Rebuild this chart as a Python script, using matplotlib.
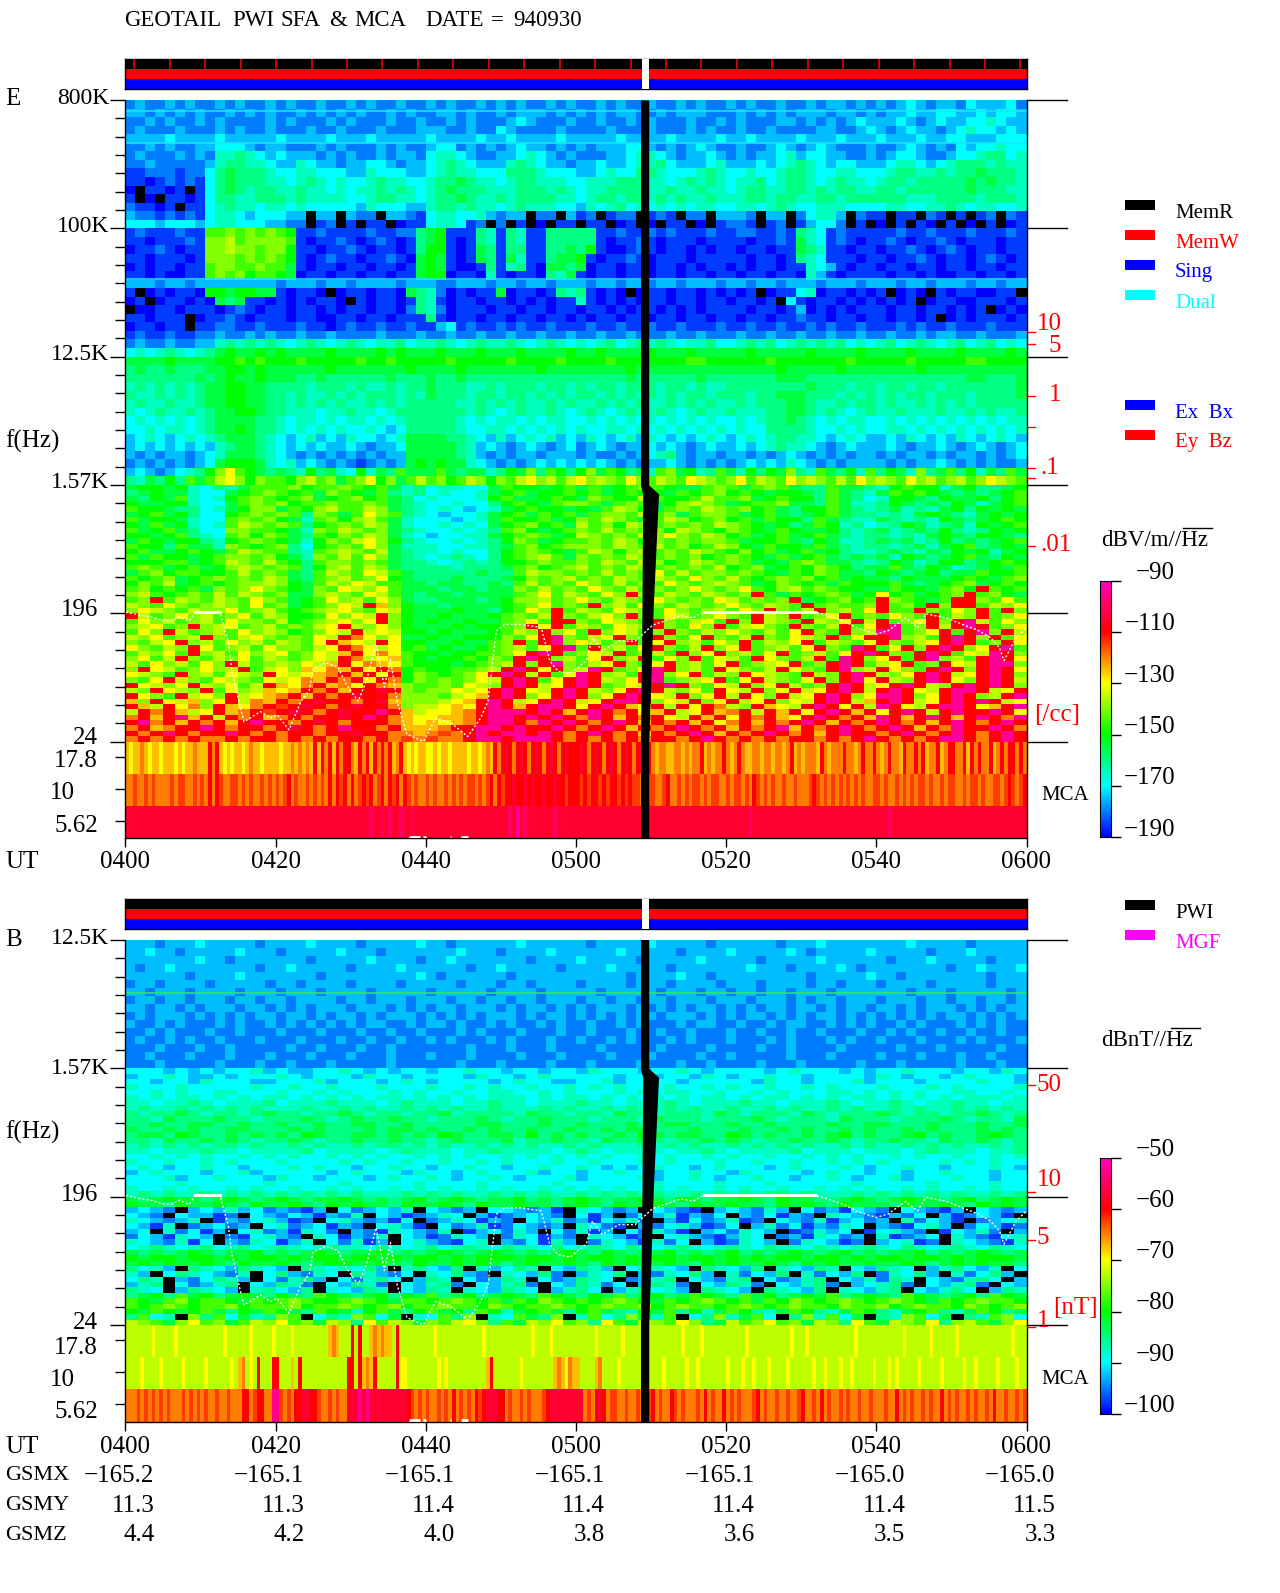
import numpy as np
import matplotlib
matplotlib.use("Agg")
import matplotlib.pyplot as plt
from matplotlib.colors import LinearSegmentedColormap
from matplotlib.patches import Rectangle

W, H = 1280, 1593
# Character codes: a..u = 21 equal colour-scale steps (blue -> magenta), '.' = below scale
E_HIGH = [
"cdccdcdccdcdccd cdccdccdcdccdcc dcdccdcdcdccdcd ccdcdccdccdcdcc dcdccdccdcddcdc dcdedcddcedddec",
"ddcdcdcdccdcdcd ccdcdcdcdccdcdc cddcdccdcdddcdc dcdcddccdcdddcc cdcdcdcdddcddcd cddeddeeddedeed",
"ccdcdccdcdccccd cdcccdcdcccdccd ccdcdcccdedcccd ccdccdcdcccdccd cdcccddcdcdcded ddedcdeddeefedd",
"cdcccdcccdcdccd cccdccdcccdcccd ddccdccedccccdc cccdcccdcccdcdc cdccdccccddccde dcdeddcdefeeded",
"ddddeddddeddddd eddddedddeddddd eddddeddedddded ddddeddddedddde ddeddddedddeddd edddeddeedddeee",
"ccdcdccddeeedcd dcccdcdcccdcdcc deecdcdcdeddcdc dcdddeedcdcdedc cdccdedcdedcccd ccdedcdcedeefee",
"cdcccdcdcffgfed edddcdcdccdcddc effedccddefedcd cccddeffedcdded cdcddefdeeddccd cdeedccdeefggef",
"ccdcccccdfggffe ddfeddcddeedcdd efgfedddfgfeddc ddeddeffgedddef dddedefgfedeedd deffedefgggfgff",
"bbcccbcceghgggf eeffeeeddfeeedd efgffeeegggfeee ddefeeggfeeefgf eefeefggfeeffee efggffgfgghgggf",
"bbabcbcbeghgggf fefgfefeefgffee fgghgffefggfffe efffgggffefgfgf effgefggfefgffe fggfggggghghggf",
"a.bbab.beghgfgg ffgffefeffgfgfe fghgggfffgggfgf effggggffgffgff efggffggfgfggff ggfgggggghgggff",
"b.a.bbabeggffgg gfgffffeefggffe fgghgffgfggggff efggfggfgfgffgf ffggfggffggfggg gggfffggggfgggf",
"cbbab.bbefgffef fefeeeeedfeeedd fggfgffefgfffee dfefgefefefeffe effefgfeefffeee effeeffgfeffeef",
"dccbcbcbeffedee edd.dd.dcc.ddcb effeefdcdd.cc.d bc.bcc.bcb.cc.d ddc.dd.ceffd.cb b.bb.cb.b.bc.cb",
"eeedeeedeffeeed dcc.bc.b.bb.abb effebc.c.b.a.bb .bb.ab.a.bb.a.b ccb.bc.bdeec.b. a.b.ba.b.a.b.ab",
"bcbbbcbbjjkjkjk jibbcbbbbcbbccg hibbbgfbgfbbggg ggbbcbbcbcbbbcb bccbbcbgfebcbbb bbcbbcbbbcbbbcb",
"bbabbbcbkkljkkk kjbabbcbabcbabg hibabgfbgfbbggg ggbabbcbabbbabb bbabbcbhfebcbab bcbabbcbabbbabb",
"abbcbabbkklkkjk kibbabbcbabbabg iibabhgbggbbggh gibaabcbabbabab babbabbhgfbbabb abbcbabcbabbabb",
"bbabbbabkkkjkjk jibabcbbabbcbah ihbabhgbhfbbghh ibabbcbabbbabbb bbabbabgfebbbab babbcbabbabcbab",
"ababbabbjkkjjkj jhbabbabbabbabh ihbaabgbfgbahhg habbabbabbababb ababbabbfedbabb abbabbabbabbabb",
"bbabaabbjkjkijj ihabbabbabbabbh iiabbafbabbagfh babbabbabbabbab babbabbafdbabbb babbabaabbabbab",
"dddcddcdddddddd cdddcddcddddcdd dccdddcddcddcdd dcddcddcddcdddc ddcddcdddcdddcd ddcddcdddcddcdd",
"b.ababbaiihiihh babba.abbabbahg fcababbhabbabgf gbaba.abbabbaba bab.abbefabbaba b.aba.babbaabb.",
"ab.abbabahghbba bababba.babbabg fbabbabbabababb fbabababbabbabb abbab.ebabbabab abab.abbaabbbab",
".aabbabbbabcbab babbababbabbacg fcabbbabbabbabb abbababbabababb bbabbabdabababb babbabbabab.aba",
"bbabbb.abbcbabb babbaabbabbabbb gbabbabbabbabba babbabbabbabbab babbabbcbbabbab babbab.ababbbab",
"abbabb.bbccbbcb bbcbbabcbbcbbcb bdebcbbcbcbbcbb bcbbcbbcbbcbbbc bbcbbcbbcbcbbcb bbcbcbbcbbbcbbb",
"bcbbcbbccdccdcd ccdccdccccdcccd ccdccdccdccdccd ccdccdcccdccdcc cdccdccdccdccdc cdccdcddccdcccd",
"cdccdccddfgfgfg fefgfefgfeffgef fgfefgffgfefgfe fefgefgfgfeffge efgfgefgfgfgefe fgefgfefgefgefe",
"efefgfefghihhih ihhhhihhhhihihh hihhhihhhihhhhi hhihhhhihhhihhh hhihhhhhihhhhih hhhihhhhihhhhih",
"hhhhihhhhiijiji iijiiiiijiijiii iijiiiiijiiiiji iiijiiiiiiijjii iiiijiiiiiiijii iiijiiiiijjiiii",
"ghgghggghhiihih hhhhhihhhhhhhih hhhihhhhhhhihhh hhhhhihhhhhhhhh hhhhhihhhhhihhh hhhhihhhhhhhhhh",
"ggggggghghihhih hhgghgggggghggg hgghggggggggggg ggggghgggggghgg ggggghhhggggggg ggggggggghhgggh",
"fgfgfgfghhiihhg gggfgggfgffgfgg hgggffgfgggfggf gfggfgggfggfgff gggggggghgggfgg fggfggfgggggggh",
"gffgfgfghhiihhg gfgffgfgfgggfgf hgggfggfggfgfgf ggfgfgfgfgfggfg ggfgghhhgggfgfg fgfggfgggfggggh",
"fgffgffghhiihhg gfgfgfgffgfgfgg gggffgfgfgffgfg ffgfgfgffgfgfgf fgfggghhgffgfgg fgffgfgfgfggggg",
"fefgffgfghhiihg gfffeffgffefggg ggggfgfefgffgfe fgfefgffgfefgff gfffgghhgfgfefg ffgfffgffgfgffg",
"efefefefghhhhgg feffefeffefefgg gggfefeffefeffe efefefefefefefe efefgghgfefeffe efefefefefefeff",
"eefeffefghhihgg fefefefeefedegg gggfeeffefefefe feeffefefefefef efeeggggfeefefe effefefefefefef",
"defedefefghhhgf edefdedfeedefhh hhggfedfdefefde dfedefdfededefe defefggffedefed dedfededfedefed",
"dededededfghhgf edededdedcddehh hhhgfdedcdedcde cdedcddededcded dedefgffedcdedd dedcddedcdedcde",
"dcdcddcdefhhhgf edcdcdcdcdcddhh hhhgfdcdcddcddd cdccdcdefgdcddc ddcdcdedcdcdcdd cdcddcdcddcdcde",
"cdcdcdcdehiiihf efdedcdcbcdcdhi hihhfedcdcdeded ededcdcddedcdcd cdededfedcdcddd dcdcddedcdcdccd",
"dedcdefgikmjihg hgfighfeifhgjhh hjhghhfgihkgjig ikhjighfjkhifgj hfigihkgfjhgifj gihfkghjgifhgjh",
"gfhgigjhjlmkikj jikljkhjkmikhjl jkijlkikjlmkljl mklkjmkjlkjmlkj kmjlkjmklkjljmk lkjmkljkljkmlkj",
]
E_LOW = [
"hiihifegfhjj jkijjkjijhfg effeehjiihij hjhijkjihhjk jhjkjhggjhhg fijiifhigghi",
"ghihhfeehijk jijhkjihjgfg efeefhijhiij ijhijiihjijk ijihiihgjhgf hjijihghghij",
"hgihjfefijkj ijkhijkijhge feeefijhhiji hkjiiljiijlj jkhijiigjhge fiihgihhigij",
"ihhiifeehjkj kijjkjjkjhgf eefeegijihjk kjhjkjhiklkj hijjkhhgjhff gihghgihfhij",
"jiihggefhikk hjikljjlkhgf efedefhijiih ihjlkihjkjlk jkijhgiijhgf ghfgfhigihih",
"hijhigeeijkj kjgkjhjmkjgf edeefhijhjij hjkkjljkhjkk jhijhghijhgg fgfhihgfhihi",
"jhiihfeejkjk ihfjkikljhfe eedefhjiijhi kjlkjhjlkijk ijhjiigjhgff hgfgfihghiji",
"ihjhifefjlkj kjgijkjlkhfe efefehijkijh ljkilkjkjkjl kjihighjifge fgihfghfihij",
"jhijhgeekkjj ihfkjlkjkhgf eefefgjkihij kjljkjkilkji kjihjihhigfg hfghgigfgihi",
"iihijgfejkik jhgjikjlkhfe deeffhijkjhi lkjkjlkmkjlk ijhijhijhgfg gfgfhihgiihg",
"hjihiigfijkj ihfikjlmkigf eefefgikjhij jkjlkikjkjkk jhiijhgihffg hghfgighghij",
"jiigjhhfkjij kgeijkjmkhff feeffghjkijk kkjlkjljkijl kihjiihjhgfg gfghfhijghih",
"ijhhijihjlkj jgfjklkjlhgf fefeegijkjih jlkikljkjlkj ikijhijhigff ghgfhgihifhi",
"jhjiihijkkjk ihfkjljmkhgf efgfegijkljh kjkjlkjkjkij kjihjhijhghg hfihghijhgih",
"iiijjhijlkjl jigjkkjkjhgg fefgfgiijkjj kjlkjlkijlkj kjhihjkjhhgf gihfgiighiji",
"jkjhijhiklkj kjgikljlkhgg ggfggghjkijk ljkjlkjkjkjl ijkhijikjigh hjhgihfghihj",
"hjkijjiijljk jhgjlkjmljhg gggghggjlkkj kjljkjmjljkk jkjihjikjhhg ihghighhjiij",
"jijkhijkjkjl khgjkljkmihg gghggghikjkl jkjlkjlkjmkj ljijkjkijhih hgihhhijihjk",
"ikjlhijijkkl kihjlkmljjhh ghhgghgjljkj mkjljkjmkjkl kjhikjijhjii ijhghijkhiji",
"jkijijhkjkmk jihkjmlkmjhh hghhghhkjljk jmkjljkjkmkj kmjikljkjiih hjiihjkiqjij",
"kljijkjljlkj khhklkjmljhg hhghhhhjkmjl kjmkqkjlkjlk jkqjhjijkjhi mijhijkqjkih",
"jkqjlkjlkjmk jhijmkljmkhg ghhhghikkljk mkjlkjmkjkjm ljkjkqhijkij qkjihjqqkjmj",
"lkjmkjklkjmj khijkmlqnkih hghhhhijkmjk jqkljmkjlkjk mkjlkjqjkjjk qjkiqkqqjlkm",
"kmlkjlkkmjkl jijklmkjmlih hhihhgijmkqj lkjmlkjmkjkl jmkqkjlqkljm qjjqkjmkqjqk",
"qljkmkljkmjl kiijmkmlqkih hihhhijkjlqk jlmkqkjmljkm kjqlkqjkmqjk jmkjqjlkqjkm",
"jmkljkljmkkj lijklmkmqkih ihhihhjkmjqq kjmlkjqkjlmj qkqlkjqlkmql qjkmqkqtljmk",
"klmjkqklmjkl jkjlmqlkmkih hhihiijkqmqj lkjmlkqkjmkq jlmkjqkjlqjm qtjkqlqtqjkm",
"jmkqljkljmkl kijkmlqlmlii hihhhijlkqkm jqkmljkqkjlk mkjljmqkjqkl ttjkmqjqtkql",
"lkmjklqkjlmk jkjmlqomkmhh ihhiiikjmqtk jlmqkjqkjmqk jlqkjmlkqjmq qtkljqtqkqjm",
"kjlmqkljmklj lkjmqnmlqmii hhihhjkqjqtk mljkqjmqkljm kqjlkmqjlkjm qkjlmqtqjkqm",
"mkjlkqmjkljm kkjlmqomlmij hihhijkljmqt jqkljmqkjlqk mqjkljmqkjtq jmqkqtqkmqtj",
"jlkmjqkljmkl mjkmlnqmomji ihiijjkmqtqj kmlqjkljqkmq kljmqjkljmqt qkjqtqjmltqk",
"kmjlqkjlkmjl kjkmlqolmnji hiijikjqtqkl jmqklqjmkqjm ljqmkjlqjtqk mqjqtkljqtqm",
"ljmkljmkqljk lkmlnqmonmji iihijklqkqtk jlmqkjmqkljm qjklmqjkqtqj lmqjkqmlqttk",
"kqmljkmklqjl mknmonqmqoij iijjklqtqmqk ltqjkmtqkljq mkjlqmkjqtkl qmkjqtqkqtqm",
"mlkjqkljmlkq mlmnoqnqmqik jijkmqtqlqjm tqkljqtkmqjl kqmlkjqlkqtq lkmqtqlmqtqk",
"kjmqlkjmlkjm lmonqoqmqoik jkjkmlqtqjmq tqlkmqtjklmq jmqlkjmqkqtm qlkqtqmkqtql",
"qmlkmqlkmjlq nmoqnomqonkj jkjmlkqtqlmq tqjkmlqtqkjm lqkmqljkqtql mqtqlkqtqtqk",
"lkqmlkqjmkln mnqoqnqqrqkj kkmlmqtqmlqt qlkmqtqlkmjq mlqkmqlmqtql qtqmlqttqlmq",
"qmkjqlmkqlmn oqnqoqrqqokk kjlmnqtqkmqt qkmqtqmlqkmq lqmkqlmqtqkm ttqkmqtqklqt",
"nkqmlnkmqlon qoqrqqoqrnkk klmnqtqlmqtq lmqttqkmlqkm qlmqkmlqtqln qtqlmqtqtqlm",
"qnlqmokqnmoq pqrqoqrqqokl lmnmqtqnqttq mqtqnmqlqmqo lkqnmlqtqmql tqmlqttqmnqt",
"lqoqnlmqnoqp qrqoqrqqtqnl mmnoqtttqtqn qtqoqmnqlmqn oqlqnqmqtqnq mqtqlqtqqtqm",
"oqnqtnqlqoqn oqoqqrqtqonm mnnoqttqtqtq otqnqoqmlqnq mqoqnmqtqoqn tqnqtqnqtqot",
"qtoqnqoqnqtq qoqrqoqqqonm nmnoqttqotqt qoqtqnqoqnqm oqnqoqtqnqoq tqoqnqtqoqtq",
"oqnoqqtqoqqo qrqoqtqqoqnn noqqttqtqqtq oqtqnqoqtqoq nqoqtnqoqtqo qtqnqotqqtqo",
"qoqtqoqqtqoq oqqoqqrqqoon opoqtqttqtqo qtqoqnqoqtqn qoqtqoqnqtqq oqtqoqtqoqtq",
"oqoqoqooqoqq oqoqoqqoqopo pooqttqtttqo qoqoqoqqoqtq oqoqoqqoqoqt qoqoqttqoqtq",
]
# 240 characters per MCA strip: 10 characters = 5 minutes
E_MCA_18 = "nmnnonmnnm nnnmnmnnon nnqoqnmnmn nmnonnmnnn nmnnononon qnqoqnqoqq onqoqnqoqo qnoqnmnmnn mmnmnnmnnn nmnnmnonqo qrqoqrqoqr qoqrqoqrqq qrqoqrqoqr qoqrqoqrqq onoonnoono nooqnonooq onoqonnoon oonoonoqno nooonqonoo oqoonoqooq onoqoonqoo qoqnooqnoq qooqnqoqoo qnoqoqqoqo"
E_MCA_10 = "oopoopopoo oopoppoopo poqoqpoopp opopoopopo popqopoopo popoqoqpqo qopqpqopqo qpqoqpopoo popoopopop oppopopqoq pqqrqqrqrq qrqqrqqpqq qpqpqqpqpq qpqpqppoop poopqoopop oppopoppoo poppopoqpo popoopoopo oopqpopopo popopopoop popoopopop oppopoopop poopoppopo oppopqpopq"
E_MCA_5 = "rrrrrrrrrr rrrrrrrrrr rrrrrrrrrr rrrrrrrrrr rrrrrrrrrr rrrrrrrrrr rrrrrsrrsr srrsrrsrrr rrrrrrrrrr rrrrrrrrrr rrsrtrsrrr rrrrsrrrrr rrrrrrrrrr rrrrrrrrrr rrrrrrrrrr rrrrrrrrrr rrrrrrsrrr rrrrrrrrrr rrrrrrrrrr rrrrrrrrrr rrrsrrrrrr rrrrrrrrrr rrrrrrrrrr rrrrrrrrrr"
B_HIGH = [
"dddcdddedddddcd dddeddddcddddde ddcddddddeddddd dcdddddedddddcd dddddcdddeddddd dddedddddcddddd",
"ddeddcdddddeddd cdddddedddcdddd dddedddcddddedd ddddedddddcdddd edddddedcddddde dddddcdddeddddd",
"dddddddeddcdddd dddcdddddeddddc ddedddddddcdddd edddddcdddddedd dddcdddddeddddd dcdddedddddcddd",
"dcddeddddddddcd dedddddcddddedd ddddcddedddddcd dddedddddcddddd ddedddcddddedcd dddddddcddeddde",
"ddddddcddddeddd ddddcddddddddde dcddddddcdddddd dddddcddddeddcd ddddddddcddddde ddcddddddddcddd",
"cddcddddcdddddc ddcddddcddddcdd dddcdddcddcdddd cddddcdddcddddc dddcddddcddcddd cddddcdddddcddd",
"ddcdddcddddcddd cdddcddddcddddd cdddddcddddcddd ddcdddddcdddcdd cddcddcdddcdddd dddcdddcdddddcd",
"cddcddcdddcddcd dcddddcddcdddcd ddcddcddcddcddd cddcddcddcdddcd ddcdddcdcddcddd cdddcddcddcddcd",
"ddcddcdcdddcddc dcdcdddcdddcdcd cddcdddcdcddcdc dcdddcdcdcdcddc dcdcddcddcdcddc ddcdcdddcdcdcdd",
"cdcdddcdcdcdcdd cddcdcddcdcdddc dcdcdcdddcdcddc dcdcdcddcdddcdc dcddcdcdcddcdcd cdcdcdcddcdcdcd",
"dccdcdcccdcdccd cdcdcdcdcddccdc ddcdccdcdccdcdc cdccdcdcccdcddc cdccdcddccdcdcd ccdcdcccdcdcdcc",
"ccdcdcccdccdccc dcccdcccdccdccd cccdcdcccdcccdc cdcccdccdccdccc dccdccdccdcccdc cdcdccdccdccdcc",
"cdccdcdccdcccdc ccdcccdccdccdcc dcdcccdcdcccdcc dccdcdcccdcdccc dcccdcdcccdcdcc dcccdcccdcdcccd",
"cccdcccdccdcccc cdccdcccdccdccc ccccdcccdcccdcc ccdcccccdccccdc cccdccdccccdccc ccdcccdcccccdcc",
"ccdcccdcccdcccd cccdcccdcccdccc dcccdccccdcccdc cccdcccdccccdcc dcccccdcccdcccc dcccdcccdccdccc",
"cccdcccccdcccdc cdcccdcccccdccc cccdcccdccccdcc cdccccdcccdccdc cccdcccdcccccdc ccdcccccdcccdcc",
]
B_LOW = [
"eeedededeefd eddeefededee deefeedeedee dfeeedeefede eeedefeeeded eefeeedeedfe",
"deefeddedeee fedeeedfeede eeedfeedefee eeedeedeedfe deefeedeeeed fedeedefeeed",
"eedeedfeeedd eeefdeeedefe deeeedefeedd eefdeeeedeee eedfeedeeefd eeedeeeefeed",
"feeefeeeeefe efeefeeefeee feefefeefeef efefeeefeefe feefeefefeee feeefefeeeef",
"eefefeeffeee feefefeeefef eefeeffeefef eeefefeffeef eefefeeeffef efefeeffeefe",
"fefeffefefef fefefefeffef efefefffefef fefefefefeff efeffefefeff efefefefffef",
"ffeffgfefffg efffgfffefgf ffeffgffefff gffefffgfeff fgffefffgfef fgfeffgffeff",
"fgffgfgfgfgf ffgffgfgffgf gfgffgfffgfg ffgfgffgfgff gffgfgffgfgf fgfgffgfgfgf",
"gfgghgfggfgh ggfgghgfggfg ghfggggfhggf ggfhggfgggfh gfgggfhgfggg hgfggfgghgfg",
"ggfhggghggfg gghgfghgghgg fggghgfgghgg gfgggfhgggfg gghgfgggfhgg gfggghgfggfh",
"gghgghhgghgg hgghgghhgghg gggghhggghgg hggghgghhggg hgghgggghggh hggghggghggh",
"hgghghgghhgg ghghggghghhg hgghghgghggh gghghhggghgg ghgghghgghgh gghghggghghg",
"ghhgihgghghg hgihgghhghgh gihgghhgighg hgghgihghhgg ihghgghghigh gghighgghihg",
"ggfhgghghgfg ghgfgghgghgg fghggghfgghg gfhgghgfgghg hgfgghgghgfg ghggfhgghgfg",
"fgfgfgfggfgf fgfgffgfggfg fgffgfgfgffg fgfffgfgfgff gfgfgfgffgfg ffgfgfgffgfg",
"ffefffgffeff ffgeffffefgf ffeffgffffef gfeffffeffgf effffgefffef ffefgfffeffg",
"eefefefeefef efeefefefeef efefeefefefe fefeefefeefe feefeefefefe efefeefeefef",
"feefeefefeee feeeefefeefe efeefefeeefe efeeefefeeef eefeefeefefe feeeefefefee",
"efedeefeedee efefeedeefee deefeedeefee fededefeedef eeedefeeefed eefeedeeefed",
"defeeedeefde eeeedefeeedf eedefeeefdee deefeedeefee dfeeeedefeed eedeefeeedee",
"eeefdeefeeed feedeeedefee fedeefedeeef deeeefdeefed eefeedeefede efdeeefeedee",
"eeeefeeeeeef eeeeefeeeeef eeeefeeeeefe eeeeeefeeeef eeefeeeeeefe eeeefeeeefee",
"feefefeefefe efeefefeefef efeefefeefef efefeefefeef efeefeefefef eefefeefefee",
"fgfgffgfgfgf gfgfgfgfffgf gfgffgfgfgff gfgfgfgffgfg fgfggfgfffgf gfgfgfgffgfg",
"hghihhghihgh ihghhihghghi ghihghhighgh ihghhihgihgh hihgihhgghih ghihhghighih",
"ihhgihhihgih hihgihihhgih hihgihhihhgh ihgihhihgihh ihhgihihgihh hgihhihgihih",
"dedc.dedfdec dcbd.ecdedf. edcd.eedcdb. fedcd.edcb.d edcfd.ecdbed c.edcbd.edcd",
"edc.eddbc.ed cedbdcf.edbc dfe.dbcdedc. ebd.cedfbdce .dcebdc.fedc bdce.dbcedb.",
"fedcdf.bdcef dbc.efdcdbe. cdfebdc.edfc dbedfc.dbecd fbc.edcfbdec d.fcedb.cdef",
"edbf.cdecd.e fcdebdc.efdb .ecdfbcedcd. fecb.dcefdbc e.dfcebdcfe. dcbefd.cedbc",
"de.fcebd.efc dbfec.dcbfed cf.bdecfd.ec fbd.ecfdb.de cfed.bcfde.b efdc.bedfc.d",
"cedbfed.cbef dc.febdcf.ed bcfed.cfebdc .fedbc.efdcb dfe.cdbfecd. fbcde.fdcbef",
"fedcfbe.dcfe bdf.ecfbd.ef dcbef.dcebfd .cfedbfce.db cfed.cfedbc. defbc.fedcbf",
"efgfefgefgef gfefgffegfef gefgfegffege fgfegfefgfef gfegffegfefg fegfefgfegfe",
"hghghihghhig hghihghhighg hihghihghghi hgihghhighgh ighghihghigh ghhighghihgh",
"ihiihiihihii hihiihiihihi ihihiiihiihi hiihihiihiih ihihiihiihih iihiihihiiih",
"hihihhihgihh ihghiihhihgi hhihihghihhi hgihihhihgih ihhihgihihhi hhihghihihhg",
"gefd.gfedgfe d.gfefegd.fg edg.fdegf.ed gfd.egfed.gf edg.fedgf.ed gfe.dfgedf.e",
"fd.egfedcf.e gdcfe.gfdce. fegdc.fedgc. dfeg.dcfegd. fcedg.fcedg. cfegd.fcegd.",
"egf.dcegfd.e cfgd.ecfge.d gf.ecdgf.ecd gfe.cdfg.edc fg.ecdfg.edf cgf.edcfge.d",
"dfg.ecdfg.ed gfc.edgfc.ed fgc.edfgc.ed gfce.dgfc.ed gfc.edfgc.de fgc.edfgc.ed",
"gfe.dgfed.fg edg.fedgf.ed gf.fedgfe.df ge.dfgefd.gf ed.gfedg.fed fg.edfge.dgf",
"ghigjhighihg ihgjihghigih jghighihgjih gihjghighjih gjhighihjghi hgjihghigjih",
"jihjkijjihji jkjiijkjihjj ijkjijhjikji jijkjihjijkj ijhjikjijkji jkjihjijkjji",
"jijkjijjkijj jkijjkjijkij jkjjikjijjkj ijkjjkijkjji jkjijkjjikjj kijkjjikjijk",
"ihjihijhgihj ihgjihfijhgi jhigjifhijhg ijhgfihjgifh jigfhjigfhji gfhijgfhjigh",
"gjef.kgjehfg kj.egfkjeh.f ejgk.fejhgk. fjegkhfj.egk fhje.gkfjeh. gfkjeh.gfjke",
"lkjhkmjkhjlk mjkhlkgmjlkh kjlmkgjhlkmj kgmjhlkjmkgh ljkmjkhlkgmj hlkjmgkljhkm",
]
B_MCA_18 = "lllllllmll lllmllllll llllllmlll lllmlllllm llllmlllll llllnonlll qlqllnonon nlqlllllll llmlllllll lllllmllll llllllllml lllmllllll lllllmllll llmlllllll llllllllml lllmllllll lllllmllll lllllllmll lmllllllll llllmlllll lllllllmll llllmlllll lmllllllll llllllmlll"
B_MCA_10 = "llllmllllm lllllmllll lmllllllml nolmlqlllq qlllnlqlll lllllllllq qlqnonqlll llqmmlllll lllmlmllll llllllnqll lllllmllll llllnonmon nllllnolll lmllllllll lllmlllllm llmlllllll mlllmllmll lmllllmlll lllmllmlll mllmlllllm lllmlmllll lmlllllmll lllmllmlll llmllllmll"
B_MCA_5 = "ooopopopop opooopopop opoopoopoo oqqopqqoot tpopoqqrrq qpoopopoor rrtrtrrrrr rrrrrqpopo poopopoqop opoqpqrrrq qopoopopoo opqrrrrrrr rropoqrqop poopoopoop qopooqpopo oopoqopooq opopooopqo poopoopoop qoopoqopoo popoopoopo oopooqopop oopopooqop opoopopoop oqoopoopop"

# White trace (electron cyclotron frequency): minutes after 0400, Hz
TRACE_MIN = [0.1,1.7,3.4,5,6.1,7.2,8.5,9.3,12.6,13.1,13.7,14.2,15,15.8,18,19.3,20.2,21.8,23.4,24.5,25,26.7,28.3,29.4,31,32.1,33.4,34.5,35.3,36.2,37.5,39.7,41.3,43.5,45.6,47.3,48.3,49.4,50.5,52.7,55.4,56.5,57.6,59.2,61.4,62.2,63.5,65.7,67.9,70.2,71.8,74,75.6,77,91.9,93.5,95.7,97.3,100,101.6,103.9,105.5,106.6,109.3,111.5,113.6,115.2,116.4,117,118.6,120]
TRACE_HZ = [196,187,181,171,169,181,169,196,196,156,122,75,49,33,39,35,37,29,46,55,78,86,80,61,46,64,116,58,91,46,27,24,35,32,26,35,46,144,160,160,152,89,75,72,89,129,104,122,122,158,169,185,178,196,196,185,169,152,137,145,178,152,190,178,160,145,129,110,89,129,152]
TRACE_FLAT_MIN = [9.3, 12.6]
TRACE_FLAT2_MIN = [77, 91.9]
GAP_Y = [5, 2.0, 1.93, 1.05, 0.0, -0.76]
GAP_L = [68.6, 68.6, 68.9, 68.8, 68.6, 68.6]
GAP_R = [69.7, 69.7, 71.0, 70.3, 69.7, 69.7]
STATUS_GAP = [68.8, 69.8]
E_LINES_HZ = [43000, 391000, 662000]
B_LINES_HZ = [5200]
MCA_WHITE = [[37.8, 39.2], [39.6, 40], [43.2, 43.4], [44.7, 45.6]]
X_TICKS = [0, 20, 40, 60, 80, 100, 120]
X_LABELS = ["0400", "0420", "0440", "0500", "0520", "0540", "0600"]
GSMX = ["−165.2", "−165.1", "−165.1", "−165.1", "−165.1", "−165.0", "−165.0"]
GSMY = ["11.3", "11.3", "11.4", "11.4", "11.4", "11.4", "11.5"]
GSMZ = ["4.4", "4.2", "4.0", "3.8", "3.6", "3.5", "3.3"]
E_CB_TICKS = [-90, -110, -130, -150, -170, -190]
B_CB_TICKS = [-50, -60, -70, -80, -90, -100]

plt.rcParams['font.family'] = ['Liberation Serif', 'DejaVu Serif']
FS = 18
rainbow = LinearSegmentedColormap.from_list("pwi", [(0, 0, 1), (0, 1, 1), (0, 1, 0), (1, 1, 0), (1, 0, 0), (1, 0, .75)], N=256)
rainbow.set_under('black')

L, R = 125.3, 1026.5
U = 128.3

fig = plt.figure(figsize=(W / 100, H / 100), dpi=100, facecolor='white')


def axpx(l, t, r, b, **k):
    return fig.add_axes([l / W, 1 - b / H, (r - l) / W, (b - t) / H], **k)


def yunit(hz):
    return np.log(np.asarray(hz, float) / 24) / np.log(8)


def decode(row):
    row = row.replace(" ", "")
    return np.array([-1.0 if c == '.' else (ord(c) - 97) / 20 for c in row])


def paint(ax, rows, ytop, ybot):
    edges = np.linspace(ytop, ybot, len(rows) + 1)
    for i, r in enumerate(rows):
        v = decode(r)
        ax.pcolormesh(np.linspace(0, 120, len(v) + 1), edges[i:i + 2], v[None, :],
                      cmap=rainbow, vmin=0, vmax=1, shading='flat')


def panel(top, ytop, high, low, mca, lines):
    n_mca = 0.753
    bottom = top + (ytop + n_mca) * U
    ax = axpx(L, top, R, bottom)
    ax.set_xlim(0, 120)
    ax.set_ylim(-n_mca, ytop)
    paint(ax, high, ytop, 2)
    paint(ax, low, 2, 0)
    paint(ax, mca, 0, -n_mca)
    ax.hlines(yunit(lines), 0, 120, color=(.1, .9, .95) if ytop == 5 else (.2, .9, .4), lw=1.5, alpha=.8)
    ax.fill_betweenx(GAP_Y, GAP_L, GAP_R, color='black', zorder=4, lw=0)
    ax.plot(TRACE_MIN, yunit(TRACE_HZ), color='white', lw=1, ls=(0, (1.5, 1.5)), zorder=5)
    for flat in (TRACE_FLAT_MIN, TRACE_FLAT2_MIN):
        ax.plot(flat, yunit([196, 196]), color='white', lw=2, zorder=5)
    for a, b in MCA_WHITE:
        ax.plot([a, b], [-n_mca + .012] * 2, color='white', lw=2, zorder=5, solid_capstyle='butt')
    ax.set_xticks(X_TICKS)
    ax.set_xticklabels([])
    ax.tick_params(axis='x', length=6.5, width=1)
    majors = list(range(ytop + 1))
    ax.set_yticks(majors)
    ax.set_yticklabels([])
    minors = [m + k / 7 for m in majors[:-1] for k in range(1, 7)] + [-.1206, -.371, -.62]
    ax.set_yticks(minors, minor=True)
    ax.tick_params(axis='y', which='major', length=11, width=1)
    ax.tick_params(axis='y', which='minor', length=7, width=1)
    for s in ax.spines.values():
        s.set_linewidth(1)
    ax.spines['top'].set_visible(False)
    st = axpx(L, top - 41, R, top - 11)
    st.set_xlim(0, 120)
    st.set_ylim(0, 3)
    for i, c in enumerate(['blue', 'red', 'black']):
        st.barh(i + .5, 120, height=1, color=c, lw=0)
    st.axvspan(STATUS_GAP[0], STATUS_GAP[1], color='white', lw=0, zorder=3)
    st.set_xticks([])
    st.set_yticks([])
    for s in st.spines.values():
        s.set_linewidth(1)
    return ax, st, bottom


axE, stE, botE = panel(100, 5, E_HIGH, E_LOW, [E_MCA_18, E_MCA_10, E_MCA_5], E_LINES_HZ)
axB, stB, botB = panel(940, 3, B_HIGH, B_LOW, [B_MCA_18, B_MCA_10, B_MCA_5], B_LINES_HZ)
stE.vlines(np.arange(1.2, 120.5, 4.72), 2, 3, color='red', lw=1.1, zorder=4)


def colorbar(top, ticks):
    cax = axpx(1100, top, 1111.4, top + 256.6)
    grad = np.linspace(1, 0, 256)[:, None]
    cax.imshow(grad, aspect='auto', cmap=rainbow, vmin=0, vmax=1,
               extent=[0, 1, min(ticks), max(ticks)])
    cax.set_xticks([])
    cax.yaxis.tick_right()
    cax.set_yticks(ticks)
    cax.set_yticklabels([])
    cax.tick_params(axis='y', length=7, width=1)
    for s in cax.spines.values():
        s.set_linewidth(.8)


colorbar(580.7, E_CB_TICKS)
colorbar(1157.7, B_CB_TICKS)

ov = fig.add_axes([0, 0, 1, 1], zorder=20)
ov.set_xlim(0, W)
ov.set_ylim(H, 0)
ov.axis('off')


def T(x, y, s, c='black', ha='left', size=FS):
    ov.text(x, y, s, color=c, ha=ha, va='center', fontsize=size)


for x, s in [(124, "GEOTAIL"), (232, "PWI"), (280, "SFA"), (329, "&"), (354, "MCA"), (425, "DATE"), (491, "="), (513, "940930")]:
    T(x, 21, s, size=16.5)

for (x, y, c) in [(1125, 205, 'black'), (1125, 235, 'red'), (1125, 265, 'blue'), (1125, 295, 'cyan'),
                  (1125, 405, 'blue'), (1125, 435, 'red'), (1125, 905, 'black'), (1125, 935, 'magenta')]:
    ov.add_patch(Rectangle((x, y - 5), 30, 10, color=c, lw=0))
for y, s, c in [(213, "MemR", 'black'), (243, "MemW", 'red'), (273, "Sing", 'blue'), (303, "Dual", 'cyan'),
                (413, "Ex  Bx", 'blue'), (443, "Ey  Bz", 'red'), (914, "PWI", 'black'), (944, "MGF", 'magenta')]:
    T(1175, y, s, c, size=15)

T(5, 99, "E"); T(5, 940, "B")
for y, s in [(98, "800K"), (227, "100K"), (355, "12.5K"), (483, "1.57K"), (938, "12.5K"), (1068, "1.57K")]:
    T(109, y, s, ha='right', size=17)
for y, s in [(610, "196"), (738, "24"), (761, "17.8"), (826, "5.62"), (1195, "196"), (1323, "24"), (1348, "17.8"), (1412, "5.62")]:
    T(98, y, s, ha='right')
T(50, 793, "10"); T(50, 1380, "10")
T(5, 441, "f(Hz)"); T(5, 1132, "f(Hz)")

for top, bot in [(100, botE), (940, botB)]:
    n = 6 if top == 100 else 4
    for k in range(n):
        ov.plot([R, 1067], [top + k * U] * 2, color='black', lw=1)
for y in [332, 344, 396, 427, 468, 478, 546, 1085, 1192, 1240, 1327]:
    ov.plot([R, R + 8], [y, y], color='red', lw=1)
for x, y, s in [(1037, 324, "10"), (1048, 346, "5"), (1049, 395, "1"), (1040, 468, ".1"), (1040, 545, ".01"),
                (1034, 715, "[/cc]"), (1037, 1085, "50"), (1037, 1180, "10"), (1037, 1238, "5"), (1037, 1321, "1"), (1053, 1308, "[nT]")]:
    T(x, y, s, 'red')
T(1041, 796, "MCA", size=15); T(1041, 1380, "MCA", size=15)

T(1101, 540, "dBV/m//Hz", size=16.5); T(1101, 1040, "dBnT//Hz", size=16.5)
ov.plot([1183, 1212], [528, 528], color='black', lw=1)
ov.plot([1171, 1200], [1028, 1028], color='black', lw=1)
for k, v in enumerate(E_CB_TICKS):
    T(1175, 573 + k * 51.3, str(v).replace('-', '−'), ha='right')
for k, v in enumerate(B_CB_TICKS):
    T(1175, 1149.5 + k * 51.3, str(v).replace('-', '−'), ha='right')

T(5, 862, "UT"); T(5, 1447, "UT")
for i, t in enumerate(X_TICKS):
    x = L + t / 120 * (R - L)
    T(x, 862, X_LABELS[i], ha='center')
    T(x, 1447, X_LABELS[i], ha='center')
    T(x + 29, 1476, GSMX[i], ha='right')
    T(x + 29, 1506, GSMY[i], ha='right')
    T(x + 29, 1535, GSMZ[i], ha='right')
T(5, 1476, "GSMX", size=16); T(5, 1506, "GSMY", size=16); T(5, 1535, "GSMZ", size=16)

fig.savefig("out.png", dpi=100)
